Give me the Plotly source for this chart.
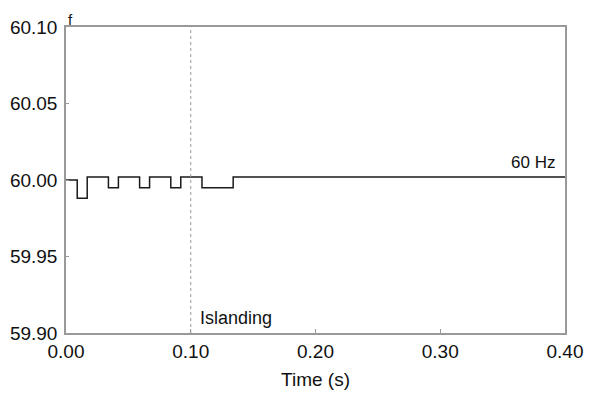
import plotly.graph_objects as go

time_s = [0.0, 0.009, 0.017, 0.034, 0.042, 0.059, 0.067, 0.084, 0.092, 0.109, 0.134, 0.40]
freq_hz = [60.000, 59.988, 60.002, 59.995, 60.002, 59.995, 60.002, 59.995, 60.002, 59.995, 60.002, 60.002]
x_ticks = [0.0, 0.1, 0.2, 0.3, 0.4]
x_tick_labels = ["0.00", "0.10", "0.20", "0.30", "0.40"]
y_ticks = [59.90, 59.95, 60.00, 60.05, 60.10]
y_tick_labels = ["59.90", "59.95", "60.00", "60.05", "60.10"]
islanding_t = 0.10

FONT = "Liberation Sans, Arial, sans-serif"

fig = go.Figure()
fig.add_trace(go.Scatter(x=time_s, y=freq_hz, mode="lines", line_shape="hv",
                         line=dict(color="#1a1a1a", width=1.5), showlegend=False))

fig.add_shape(type="line", xref="x", yref="paper", x0=islanding_t, x1=islanding_t, y0=0, y1=1,
              line=dict(color="#999999", width=1, dash="dot"))

fig.add_annotation(x=islanding_t, y=59.90, xref="x", yref="y", text="Islanding",
                   showarrow=False, xanchor="left", yanchor="bottom", xshift=7, yshift=3,
                   font=dict(family=FONT, size=18, color="#111111"))
fig.add_annotation(x=0.40, y=60.002, xref="x", yref="y", text="60 Hz",
                   showarrow=False, xanchor="right", yanchor="bottom", xshift=-8, yshift=3,
                   font=dict(family=FONT, size=17, color="#111111"))
fig.add_annotation(x=0, y=1, xref="paper", yref="paper", text="f",
                   showarrow=False, xanchor="left", yanchor="bottom", xshift=0, yshift=-3,
                   font=dict(family=FONT, size=15, color="#111111"))

fig.update_layout(
    width=585, height=389,
    margin=dict(l=58, r=28, t=19, b=64, autoexpand=False),
    paper_bgcolor="white", plot_bgcolor="white",
    font=dict(family=FONT, size=19, color="#111111"),
    xaxis=dict(range=[0, 0.4], tickvals=x_ticks, ticktext=x_tick_labels,
               showgrid=False, zeroline=False, showline=True, mirror=True,
               linecolor="#999999", linewidth=1.5, ticks="inside", ticklen=4,
               tickcolor="#999999", ticklabelstandoff=0, automargin=False,
               title=dict(text="Time (s)", font=dict(size=19), standoff=12)),
    yaxis=dict(range=[59.90, 60.10], tickvals=y_ticks, ticktext=y_tick_labels,
               showgrid=False, zeroline=False, showline=True, mirror=True,
               linecolor="#999999", linewidth=1.5, ticks="inside", ticklen=3,
               tickcolor="#999999", ticklabelstandoff=3, automargin=False),
)

fig.write_html("out.html")
